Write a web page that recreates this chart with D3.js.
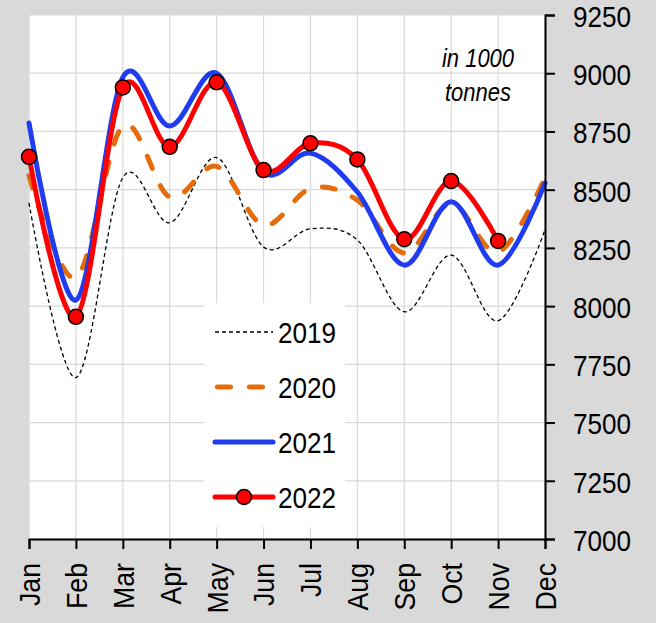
<!DOCTYPE html>
<html>
<head>
<meta charset="utf-8">
<script src="https://cdn.jsdelivr.net/npm/d3@7"></script>
<style>
  body { margin: 0; background: #d9d9d9; }
  svg { display: block; }
</style>
</head>
<body>
<svg width="656" height="623"></svg>
<script>
let months = ["Jan", "Feb", "Mar", "Apr", "May", "Jun", "Jul", "Aug", "Sep", "Oct", "Nov", "Dec"];
let yTicks = [7000, 7250, 7500, 7750, 8000, 8250, 8500, 8750, 9000, 9250];
let v2019 = [8443, 7693, 8552, 8358, 8638, 8254, 8332, 8284, 7976, 8219, 7937, 8327];
let v2020 = [8560, 8121, 8775, 8468, 8600, 8348, 8505, 8455, 8228, 8440, 8232, 8552];
let v2021 = [8786, 8026, 8982, 8773, 9000, 8575, 8657, 8490, 8176, 8448, 8176, 8528];
let v2022 = [8641, 7954, 8939, 8684, 8961, 8584, 8699, 8630, 8287, 8537, 8280];

let svg = d3.select("svg"),
    margin = {top: 15, right: 111, bottom: 84, left: 29},
    width = 656 - margin.left - margin.right,
    height = 623 - margin.top - margin.bottom;

let font = "'Liberation Sans', Arial, sans-serif";

// narrow the glyphs a bit, the source uses a condensed face
let squish = (sel, k) => sel.each(function() {
  let len = this.getComputedTextLength();
  d3.select(this).attr("textLength", len * k).attr("lengthAdjust", "spacingAndGlyphs");
});

let x = d3.scalePoint().domain(months).range([0, width]),
    y = d3.scaleLinear().domain([7000, 9250]).range([height, 0]);

let g = svg.append("g")
    .attr("transform", "translate(" + margin.left + "," + margin.top + ")");

g.append("rect")
    .attr("width", width).attr("height", height)
    .attr("fill", "#fff");

// gridlines
g.append("g").selectAll("line")
  .data(months)
  .enter().append("line")
    .attr("x1", (d) => x(d)).attr("x2", (d) => x(d))
    .attr("y1", 0).attr("y2", height)
    .attr("stroke", "#d9d9d9").attr("stroke-width", 1.2);

g.append("g").selectAll("line")
  .data(yTicks)
  .enter().append("line")
    .attr("x1", 0).attr("x2", width)
    .attr("y1", (d) => y(d)).attr("y2", (d) => y(d))
    .attr("stroke", "#d9d9d9").attr("stroke-width", 1.2);

let line = d3.line()
    .x((d, i) => x(months[i]))
    .y((d) => y(d))
    .curve(d3.curveCatmullRom.alpha(0));

let series = [
  {key: "2019", values: v2019, color: "#000", w: 1.3, dash: "4,3", cap: "butt"},
  {key: "2020", values: v2020, color: "#e46c0a", w: 5, dash: "13,19", cap: "round"},
  {key: "2021", values: v2021, color: "#1f3cf0", w: 5, dash: null, cap: "round"},
  {key: "2022", values: v2022, color: "#ff0000", w: 5, dash: null, cap: "round"}
];

series.forEach((s) => {
  g.append("path")
      .datum(s.values)
      .attr("fill", "none")
      .attr("stroke", s.color)
      .attr("stroke-width", s.w)
      .attr("stroke-dasharray", s.dash)
      .attr("stroke-linecap", s.cap)
      .attr("d", line);
});

g.selectAll(".dot")
  .data(v2022)
  .enter().append("circle")
    .attr("class", "dot")
    .attr("cx", (d, i) => x(months[i]))
    .attr("cy", (d) => y(d))
    .attr("r", 7.5)
    .attr("fill", "#ff0000")
    .attr("stroke", "#000")
    .attr("stroke-width", 1.5);

// legend
let legend = g.append("g")
    .attr("transform", "translate(" + (204 - margin.left) + "," + (303 - margin.top) + ")");

legend.append("rect")
    .attr("width", 141).attr("height", 224)
    .attr("fill", "#fff");

let item = legend.selectAll(".item")
  .data(series)
  .enter().append("g")
    .attr("class", "item")
    .attr("transform", (d, i) => "translate(0," + (29 + i * 55) + ")");

item.append("line")
    .attr("x1", 11).attr("x2", 69)
    .attr("stroke", (d) => d.color)
    .attr("stroke-width", (d) => d.w)
    .attr("stroke-dasharray", (d) => d.dash)
    .attr("stroke-linecap", (d) => d.cap)
    .attr("stroke-dashoffset", (d) => d.key === "2020" ? -2.5 : 0);

item.filter((d) => d.key === "2022").append("circle")
    .attr("cx", 40).attr("r", 7.5)
    .attr("fill", "#ff0000").attr("stroke", "#000").attr("stroke-width", 1.5);

item.append("text")
    .attr("x", 74)
    .attr("dy", "0.36em")
    .style("font", "30px " + font)
    .style("fill", "#000")
    .text((d) => d.key)
    .call(squish, 0.87);

// axes
let yAxis = g.append("g")
    .attr("transform", "translate(" + width + ",0)")
    .call(d3.axisRight(y).tickValues(yTicks).tickSize(10).tickPadding(18).tickFormat(d3.format("d")));

let xAxis = g.append("g")
    .attr("transform", "translate(0," + height + ")")
    .call(d3.axisBottom(x).tickSize(10).tickPadding(0));

[yAxis, xAxis].forEach((a) => {
  a.select(".domain").attr("stroke", "#000").attr("stroke-width", 2);
  a.selectAll(".tick line").attr("stroke", "#000").attr("stroke-width", 2);
});

yAxis.selectAll("text")
    .style("font", "30px " + font)
    .style("fill", "#000")
    .attr("dy", "0.38em")
    .call(squish, 0.87);

xAxis.selectAll("text")
    .style("font", "29px " + font)
    .style("fill", "#000")
    .attr("text-anchor", "end")
    .attr("transform", "rotate(-90)")
    .attr("x", -24)
    .attr("y", 0)
    .attr("dy", "0.36em")
    .call(squish, 0.92);

g.append("text")
    .attr("x", 478 - margin.left)
    .attr("y", 67 - margin.top)
    .attr("text-anchor", "middle")
    .style("font", "italic 25px " + font)
    .text("in 1000")
    .call(squish, 0.88);

g.append("text")
    .attr("x", 478 - margin.left)
    .attr("y", 101 - margin.top)
    .attr("text-anchor", "middle")
    .style("font", "italic 25px " + font)
    .text("tonnes")
    .call(squish, 0.88);
</script>
</body>
</html>
